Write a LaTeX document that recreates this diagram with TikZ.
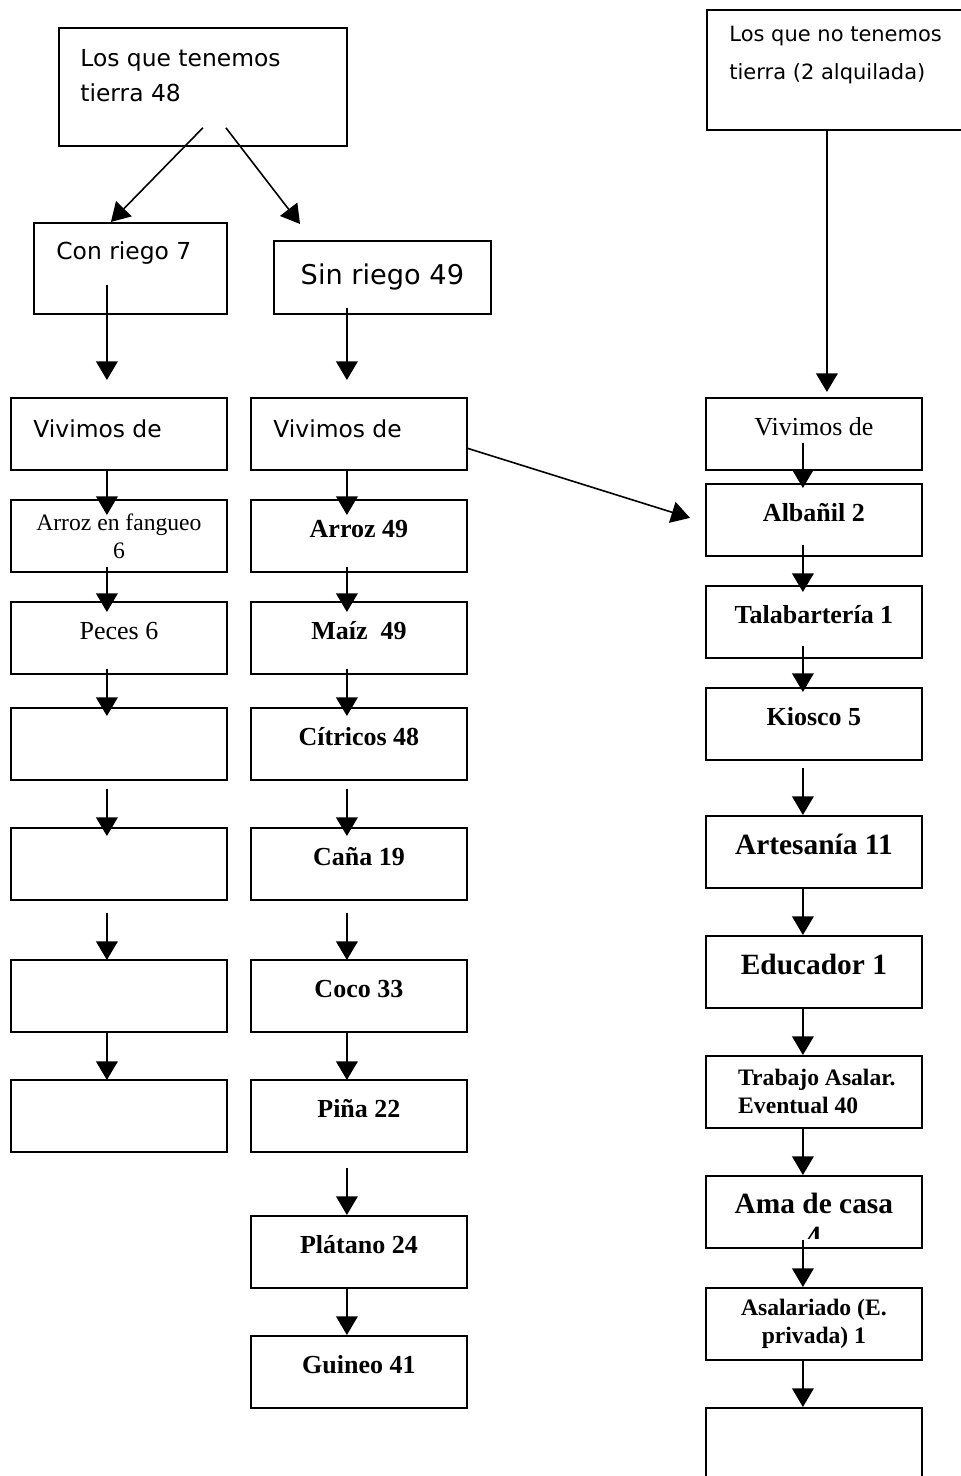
\documentclass[tikz,border=0pt]{standalone}
\usepackage{fontspec}
\setmainfont{Liberation Serif}
\newfontfamily\sansfam{DejaVu Sans}
\usetikzlibrary{arrows.meta}

\begin{document}
\begin{tikzpicture}[x=0.5pt, y=-0.5pt,
    box/.style={draw, line width=0.9pt, anchor=north west, minimum width=108pt, minimum height=36pt, inner sep=0pt},
    sanstxt/.style={inner sep=0pt, anchor=west, align=left, font=\sansfam\fontsize{11.7}{17.5}\selectfont},
    txt/.style={inner sep=0pt, yshift=3.5pt, font=\bfseries\fontsize{13}{15}\selectfont},
    txtbig/.style={txt, font=\bfseries\fontsize{14.7}{16.5}\selectfont},
    txtsmall/.style={inner sep=0pt, align=center, font=\bfseries\fontsize{11.8}{14}\selectfont},
    arr/.style={line width=0.8pt, -{Triangle[width=10.8pt, length=9.3pt]}}]
    \useasboundingbox (0,0) rectangle (961,1476);
    \clip (0,0) rectangle (961,1476);

    % cabeceras
    \node[box, minimum width=144pt, minimum height=59pt,
        label={[sanstxt, xshift=11pt, yshift=5.75pt]west:Los que tenemos\\tierra 48}] (tierra) at (58,27) {};
    \node[box, minimum width=140pt, minimum height=60pt,
        label={[sanstxt, xshift=11.5pt, yshift=7.5pt, font=\sansfam\fontsize{10.5}{19}\selectfont]west:Los que no tenemos\\tierra (2 alquilada)}] (sintierra) at (706,9) {};
    \node[box, minimum width=96.5pt, minimum height=45.5pt,
        label={[sanstxt, xshift=11.5pt, yshift=7.5pt]west:Con riego 7}] (conriego) at (33,222) {};
    \node[box, minimum width=108.5pt, minimum height=36.5pt,
        label={[sanstxt, anchor=center, font=\sansfam\fontsize{13.6}{16}\selectfont]center:Sin riego 49}] (sinriego) at (273,240) {};

    % vivimos de
    \node[box, label={[sanstxt, xshift=11.5pt, yshift=2.75pt]west:Vivimos de}] (vivA) at (10,397) {};
    \node[box, label={[sanstxt, xshift=11.5pt, yshift=2.75pt]west:Vivimos de}] (vivB) at (250,397) {};
    \node[box, label={[txt, font=\fontsize{13}{15}\selectfont]center:Vivimos de}] (vivC) at (705,397) {};

    % columna con riego
    \node[box, label={[txtsmall, font=\fontsize{11.8}{14}\selectfont]center:Arroz en fangueo\\6}] (fangueo) at (10,499) {};
    \node[box, label={[txt, font=\fontsize{13}{15}\selectfont]center:Peces 6}] (peces) at (10,601) {};
    \foreach \nm/\y in {vacioA/707, vacioB/827, vacioC/959, vacioD/1079}
        \node[box] (\nm) at (10,\y) {};

    % columna sin riego
    \foreach \nm/\y/\lbl in {arroz/499/Arroz 49, maiz/601/{Maíz~ 49}, citricos/707/Cítricos 48,
        cana/827/Caña 19, coco/959/Coco 33, pina/1079/Piña 22, platano/1215/Plátano 24, guineo/1335/Guineo 41}
        \node[box, label={[txt]center:\lbl}] (\nm) at (250,\y) {};

    % columna sin tierra
    \foreach \nm/\y/\lbl in {albanil/483/Albañil 2, talab/585/Talabartería 1, kiosco/687/Kiosco 5}
        \node[box, label={[txt]center:\lbl}] (\nm) at (705,\y) {};
    \node[box, label={[txtbig]center:Artesanía 11}] (artes) at (705,815) {};
    \node[box, label={[txtbig]center:Educador 1}] (educ) at (705,935) {};
    \node[box, label={[txtsmall, align=left, xshift=1.5pt]center:Trabajo Asalar.\\Eventual 40}] (trabajo) at (705,1055) {};
    \node[box, path picture={
        \clip (path picture bounding box.north west) rectangle ([yshift=4.5pt]path picture bounding box.south east);
        \node[anchor=center, inner sep=0pt, align=center, yshift=-3.75pt, font=\bfseries\fontsize{14.7}{16.5}\selectfont]
        (amatxt) at (path picture bounding box.center) {Ama de casa\\4};}] (ama) at (705,1175) {};
    \node[box, label={[txtsmall]center:Asalariado (E.\\privada) 1}] (asal) at (705,1287) {};
    \node[box, minimum height=50pt] (vacioE) at (705,1407) {};

    % flechas
    \draw[arr] ([yshift=9.5pt]tierra.south) -- ([xshift=-9.75pt]conriego.north);
    \draw[arr] ([xshift=11.5pt, yshift=9.5pt]tierra.south) -- ([xshift=13.5pt, yshift=8pt]sinriego.north west);
    \draw[arr] ([xshift=-11.75pt, yshift=15pt]conriego.south) -- ([xshift=-6pt, yshift=8.5pt]vivA.north);
    \draw[arr] ([xshift=-17.75pt, yshift=3.5pt]sinriego.south) -- ([xshift=-6pt, yshift=8.5pt]vivB.north);
    \coordinate (bajada) at ([xshift=6.5pt, yshift=2.5pt]vivC.north);
    \draw[arr] (sintierra.south -| bajada) -- (bajada);
    \draw[arr] ([yshift=-7.25pt]vivB.east) -- ([xshift=-7.5pt, yshift=1pt]albanil.west);

    \foreach \a/\b/\s/\e in {vivA/fangueo/0/-8, fangueo/peces/3/-5.5, peces/vacioA/3/-4.5,
        vacioA/vacioB/-4/-4.5, vacioB/vacioC/-6/-0.5, vacioC/vacioD/0/-0.5,
        vivB/arroz/0/-8, arroz/maiz/3/-5.5, maiz/citricos/3/-4.5, citricos/cana/-4/-4.5,
        cana/coco/-6/-0.5, coco/pina/0/-0.5, pina/platano/-7.5/0, platano/guineo/0/0}
        \draw[arr] ([xshift=-6pt, yshift=\s pt]\a.south) -- ([xshift=-6pt, yshift=\e pt]\b.north);

    \foreach \a/\b/\s/\e in {vivC/albanil/14/-2.5, albanil/talab/6/-3.5, talab/kiosco/6.5/-2.5,
        kiosco/artes/-3.5/0, artes/educ/0/0, educ/trabajo/0/0, trabajo/ama/0/0,
        ama/asal/4.5/0, asal/vacioE/0/0}
        \draw[arr] ([xshift=-5.5pt, yshift=\s pt]\a.south) -- ([xshift=-5.5pt, yshift=\e pt]\b.north);
\end{tikzpicture}
\end{document}
